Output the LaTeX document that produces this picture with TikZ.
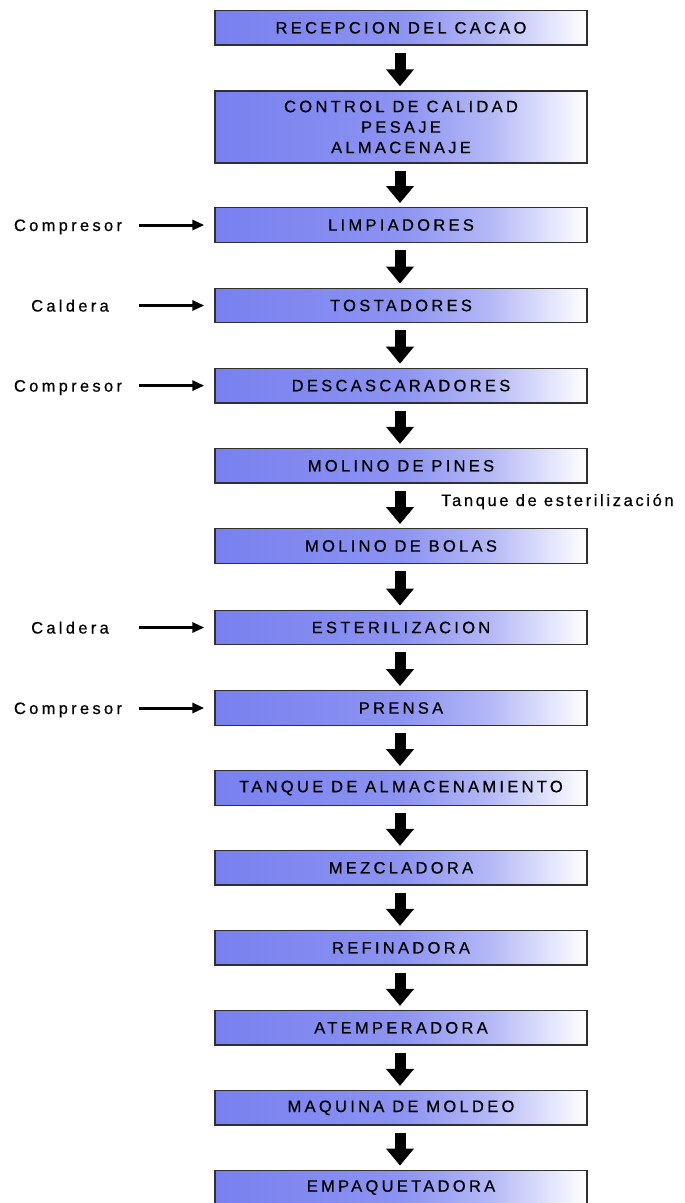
\documentclass[tikz,border=0pt]{standalone}
\usepackage{fontspec}
\setmainfont{Liberation Sans}
\newfontfamily\spaced[LetterSpace=20,FakeBold=0.6]{Liberation Sans}
\newfontfamily\spacedb[LetterSpace=16,FakeBold=0.6]{Liberation Sans}
\usetikzlibrary{arrows.meta}
\definecolor{bA}{HTML}{7880F0}
\definecolor{bB}{HTML}{8C93F1}
\definecolor{bC}{HTML}{B4B8F6}
\definecolor{edge}{HTML}{303030}
\pgfdeclarehorizontalshading{boxshade}{100bp}{color(0bp)=(bA); color(25bp)=(bA); color(50bp)=(bB); color(62bp)=(bC); color(75bp)=(white); color(100bp)=(white)}
\tikzset{
 box/.style={draw=edge, line width=1.4pt, shading=boxshade, minimum width=372pt, minimum height=34.5pt, inner sep=0pt, font=\spaced\fontsize{16.5}{20.5}\selectfont, align=center},
 flow/.style={line width=11pt, -{Triangle[length=17pt,width=27pt]}},
 feed/.style={line width=3pt, -{Triangle[length=12pt,width=10pt]}},
 lab/.style={font=\spaced\fontsize{16.5}{18}\selectfont, inner sep=0pt}
}
\begin{document}
\begin{tikzpicture}[x=1pt,y=-1pt]
\useasboundingbox (0,0) rectangle (685,1203);
\node[box] (b1) at (401,27.8) {RECEPCION DEL CACAO};
\node[box, minimum height=72pt] (b2) at (401,127) {CONTROL DE CALIDAD\\PESAJE\\ALMACENAJE};
\node[box] (b3) at (401,225) {LIMPIADORES};
\node[box] (b4) at (401,305.5) {TOSTADORES};
\node[box] (b5) at (401,385.6) {DESCASCARADORES};
\node[box] (b6) at (401,465.8) {MOLINO DE PINES};
\node[box] (b7) at (401,546) {MOLINO DE BOLAS};
\node[box] (b8) at (401,627.5) {ESTERILIZACION};
\node[box] (b9) at (401,708) {PRENSA};
\node[box] (b10) at (401,788) {TANQUE DE ALMACENAMIENTO};
\node[box] (b11) at (401,867.8) {MEZCLADORA};
\node[box] (b12) at (401,947.8) {REFINADORA};
\node[box] (b13) at (401,1027.8) {ATEMPERADORA};
\node[box] (b14) at (401,1107.8) {MAQUINA DE MOLDEO};
\node[box] (b15) at (401,1187.5) {EMPAQUETADORA};
\foreach \a/\b in {b1/b2,b2/b3,b3/b4,b4/b5,b5/b6,b6/b7,b7/b8,b8/b9,b9/b10,b10/b11,b11/b12,b12/b13,b13/b14,b14/b15}
  \draw[flow] ([xshift=-1pt,yshift=-7pt]\a.south) -- ([xshift=-1pt,yshift=4pt]\b.north);
\node[lab, anchor=base] (l3) at (68,231) {Compresor};
\node[lab, anchor=base] (l4) at (70,311.5) {Caldera};
\node[lab, anchor=base] (l5) at (68,391.6) {Compresor};
\node[lab, anchor=base] (l8) at (70,633.5) {Caldera};
\node[lab, anchor=base] (l9) at (68,714) {Compresor};
\foreach \k in {3,4,5,8,9}{
  \path (b\k.west) ++(-75pt,0pt) coordinate (s\k);
  \draw[feed] (s\k) -- ([xshift=-10pt]b\k.west);
}
\node[lab, font=\spacedb\fontsize{16.5}{18}\selectfont, anchor=base west] (tq) at (441,506) {Tanque de esterilización};
\end{tikzpicture}
\end{document}
